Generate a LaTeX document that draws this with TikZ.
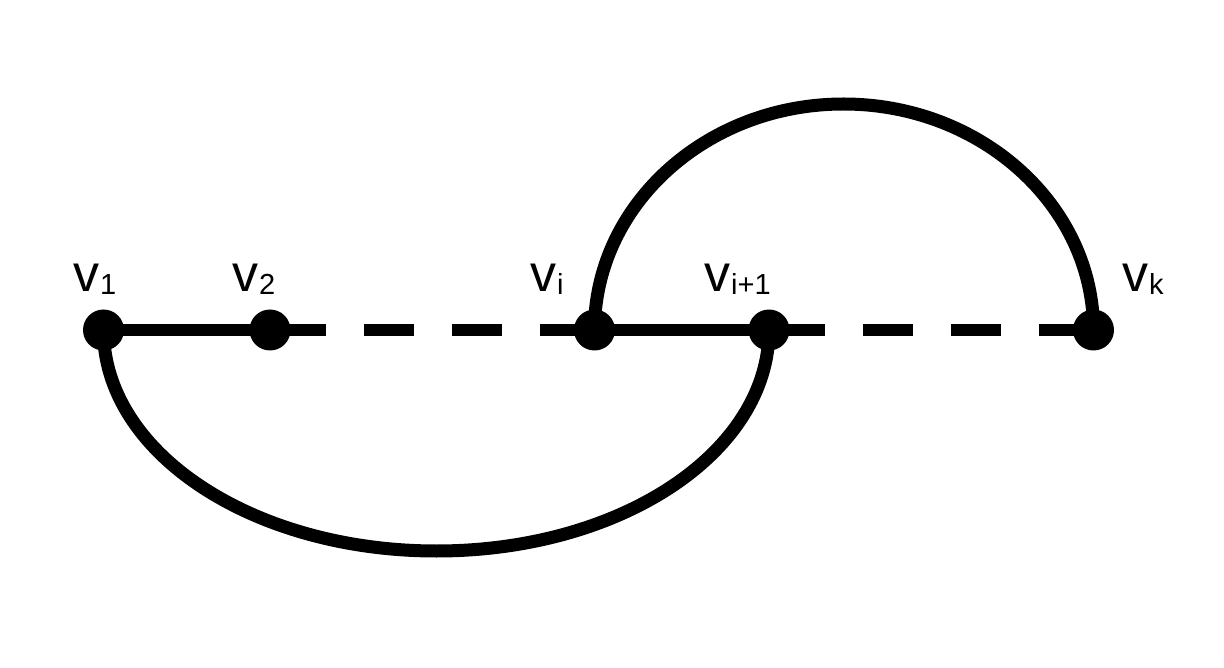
\documentclass[tikz,border=0pt]{standalone}
\usepackage{fontspec}
\setmainfont{Liberation Sans}
\usetikzlibrary{backgrounds}
\tikzset{
  vert/.style={circle,fill=black,draw=none,minimum size=41pt,inner sep=0pt},
  lbl/.style={anchor=base west,inner sep=0pt,font=\fontsize{52}{56}\selectfont},
  edgeline/.style={line width=12.5pt},
  arcline/.style={line width=13pt},
  dashedge/.style={line width=12.5pt,dash pattern=on 56pt off 38pt on 50pt off 38pt on 50pt off 38pt on 120pt off 10pt},
}
\newcommand{\vsub}[1]{v\kern1pt\raisebox{-3pt}{\fontsize{29}{30}\selectfont #1}}
\begin{document}
\begin{tikzpicture}[x=1pt,y=-1pt]
\useasboundingbox (0,0) rectangle (1224,668);
\node[vert] (v1) at (103.5,330) {};
\node[vert] (v2) at (270,330) {};
\node[vert] (vi) at (594.5,330) {};
\node[vert] (vi1) at (769,330) {};
\node[vert] (vk) at (1093.5,330) {};
\coordinate (top) at (843.5,104);
\coordinate (bot) at (436.5,551);
\node[lbl] (l1) at (73,292) {\vsub{1}};
\node[lbl] (l2) at (232,292) {\vsub{2}};
\node[lbl] (li) at (530,292) {\vsub{i}};
\node[lbl] (li1) at (704,292) {\vsub{i+1}};
\node[lbl] (lk) at (1122,292) {\vsub{k}};
\begin{pgfonlayer}{background}
\draw[edgeline] (v1.center) -- (v2.center);
\draw[dashedge] (v2.center) -- (vi.center);
\draw[edgeline] (vi.center) -- (vi1.center);
\draw[dashedge] (vi1.center) -- (vk.center);
\draw[arcline] (vi.center) .. controls +(0,-124.3) and +(-137.8,0) .. (top)
  .. controls +(137.8,0) and +(0,-124.3) .. (vk.center);
\draw[arcline] (v1.center) .. controls +(0,122.6) and +(-184,0) .. (bot)
  .. controls +(184,0) and +(0,122.6) .. (vi1.center);
\end{pgfonlayer}
\end{tikzpicture}
\end{document}
